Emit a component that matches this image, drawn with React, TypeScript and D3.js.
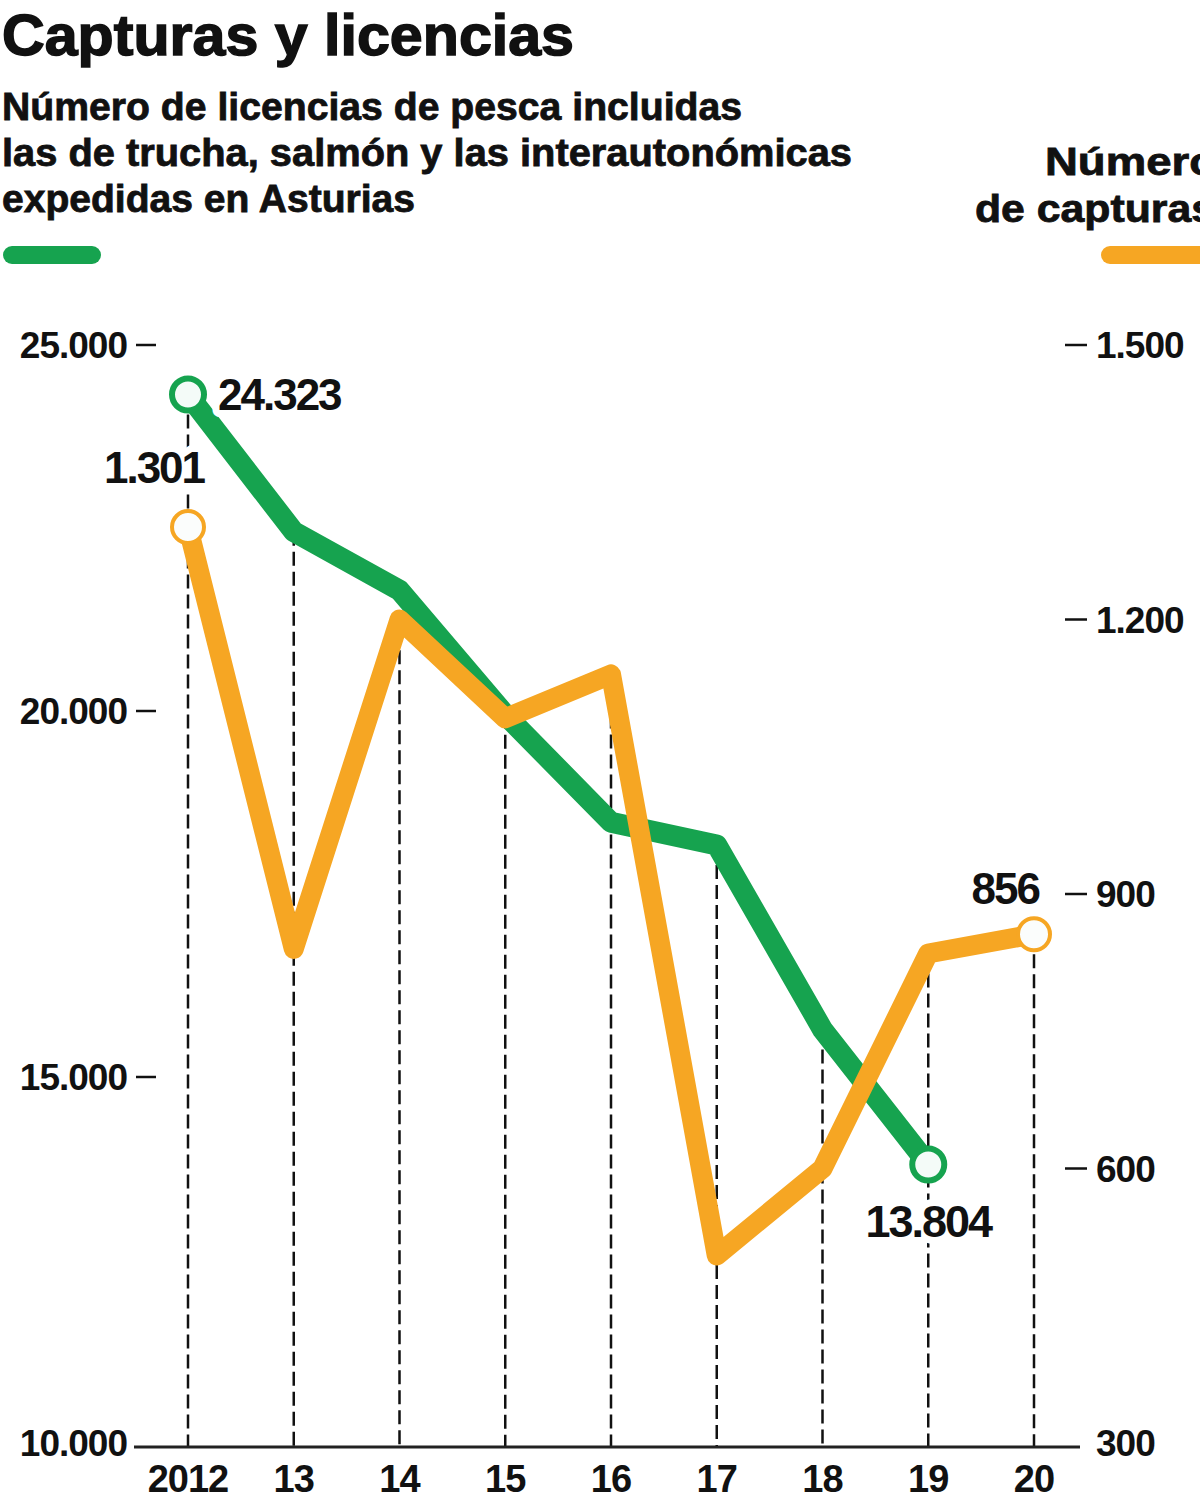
import * as d3 from 'd3';

// años del eje X y valores
const years = ['2012', '13', '14', '15', '16', '17', '18', '19', '20'];
const licencias = [24323, 22450, 21650, 19950, 18480, 18170, 15650, 13804];
const capturas = [1301, 840, 1200, 1092, 1140, 505, 600, 835, 856];

const leftTicks = [10000, 15000, 20000, 25000];
const rightTicks = [300, 600, 900, 1200, 1500];

const subtitleLines = [
  'Número de licencias de pesca incluidas',
  'las de trucha, salmón y las interautonómicas',
  'expedidas en Asturias',
];

const GREEN = '#16a34f';
const ORANGE = '#f6a623';
const FONT = '"Liberation Sans", Arial, sans-serif';

const fmt = (v: number) => d3.format(',')(v).replace(/,/g, '.');

const App = () => {
  const width = 1200;
  const height = 1503;
  const baseY = 1447;

  const x = d3.scalePoint<string>().domain(years).range([188, 1034]);
  const yLeft = d3.scaleLinear().domain([10000, 25000]).range([1443, 345]);
  const yRight = d3.scaleLinear().domain([300, 1500]).range([1443, 345]);

  const greenPts: [number, number][] = licencias.map((v, i) => [x(years[i])!, yLeft(v)]);
  const orangePts: [number, number][] = capturas.map((v, i) => [x(years[i])!, yRight(v)]);

  const line = d3.line();

  // la guía de cada año arranca en el punto más alto
  const topY = years.map((_, i) => {
    const ys = [orangePts[i][1]];
    if (i < greenPts.length) ys.push(greenPts[i][1]);
    return Math.min(...ys);
  });

  const gLast = greenPts.length - 1;
  const oLast = orangePts.length - 1;

  const halo = { stroke: 'white', strokeWidth: 14, strokeLinejoin: 'round' as const, paintOrder: 'stroke' as const };

  return (
    <div style={{ position: 'absolute', left: 0, top: 0 }}>
      <svg width={width} height={height} style={{ display: 'block', background: 'white' }} fontFamily={FONT}>
        {/* titulo */}
        <text x={2} y={55} fontSize={58} fontWeight="bold" stroke="#111" strokeWidth={1.5}
          textLength={572} lengthAdjust="spacingAndGlyphs" fill="#111">
          Capturas y licencias
        </text>
        {subtitleLines.map((t, i) => (
          <text key={t} x={2} y={120 + i * 46} fontSize={38} fontWeight="bold" fill="#111"
            stroke="#111" strokeWidth={0.8}
            textLength={[740, 850, 413][i]} lengthAdjust="spacingAndGlyphs">
            {t}
          </text>
        ))}
        <line x1={12} x2={92} y1={255} y2={255} stroke={GREEN} strokeWidth={18} strokeLinecap="round" />

        <text x={1045} y={175} fontSize={38} fontWeight="bold" fill="#111" stroke="#111" strokeWidth={0.8}
          textLength={172} lengthAdjust="spacingAndGlyphs">Número</text>
        <text x={975} y={222} fontSize={38} fontWeight="bold" fill="#111" stroke="#111" strokeWidth={0.8}
          textLength={240} lengthAdjust="spacingAndGlyphs">de capturas</text>
        <line x1={1110} x2={1230} y1={255} y2={255} stroke={ORANGE} strokeWidth={18} strokeLinecap="round" />

        {/* ejes */}
        {leftTicks.map((t) => (
          <g key={t}>
            <text x={127} y={yLeft(t)} dy="0.36em" textAnchor="end" fontSize={37} fontWeight="bold"
              letterSpacing={-1} fill="#111">{fmt(t)}</text>
            {t !== 10000 && (
              <line x1={136} x2={156} y1={yLeft(t)} y2={yLeft(t)} stroke="#111" strokeWidth={2.5} />
            )}
          </g>
        ))}
        {rightTicks.map((t) => (
          <g key={t}>
            {t !== 300 && (
              <line x1={1065} x2={1087} y1={yRight(t)} y2={yRight(t)} stroke="#111" strokeWidth={2.5} />
            )}
            <text x={1096} y={yRight(t)} dy="0.36em" fontSize={37} fontWeight="bold"
              letterSpacing={-1} fill="#111">{fmt(t)}</text>
          </g>
        ))}

        {/* guias discontinuas */}
        {years.map((yr, i) => (
          <line key={yr} x1={x(yr)} x2={x(yr)} y1={topY[i]} y2={baseY}
            stroke="#111" strokeWidth={2.5} strokeDasharray="14 6" />
        ))}

        <line x1={134} x2={1080} y1={baseY} y2={baseY} stroke="#222" strokeWidth={3} />

        {years.map((yr) => (
          <text key={yr} x={x(yr)} y={1492} textAnchor="middle" fontSize={38} fontWeight="bold"
            letterSpacing={-1} fill="#111">{yr}</text>
        ))}

        {/* series */}
        <path d={line(greenPts) ?? ''} fill="none" stroke={GREEN} strokeWidth={21}
          strokeLinejoin="round" strokeLinecap="round" />
        <path d={line(orangePts) ?? ''} fill="none" stroke={ORANGE} strokeWidth={20}
          strokeLinejoin="round" strokeLinecap="round" />

        {[greenPts[0], greenPts[gLast]].map(([cx, cy], i) => (
          <circle key={'g' + i} cx={cx} cy={cy} r={16} fill="#f4fbf8" stroke={GREEN} strokeWidth={6} />
        ))}
        {[orangePts[0], orangePts[oLast]].map(([cx, cy], i) => (
          <circle key={'o' + i} cx={cx} cy={cy} r={16} fill="#fbfdfc" stroke={ORANGE} strokeWidth={4} />
        ))}

        {/* etiquetas de valores */}
        <text x={greenPts[0][0] + 30} y={greenPts[0][1]} dy="0.36em" fontSize={44} fontWeight="bold"
          letterSpacing={-2} fill="#111" {...halo}>{fmt(licencias[0])}</text>
        <text x={orangePts[0][0] - 34} y={orangePts[0][1] - 44} textAnchor="middle" fontSize={44}
          fontWeight="bold" letterSpacing={-2} fill="#111" {...halo}>{fmt(capturas[0])}</text>
        <text x={greenPts[gLast][0]} y={greenPts[gLast][1] + 72} textAnchor="middle" fontSize={45}
          fontWeight="bold" letterSpacing={-2} fill="#111" {...halo}>{fmt(licencias[gLast])}</text>
        <text x={orangePts[oLast][0] + 5} y={orangePts[oLast][1] - 30} textAnchor="end" fontSize={44}
          fontWeight="bold" letterSpacing={-2} fill="#111" {...halo}>{fmt(capturas[oLast])}</text>
      </svg>
    </div>
  );
};

export default App;
